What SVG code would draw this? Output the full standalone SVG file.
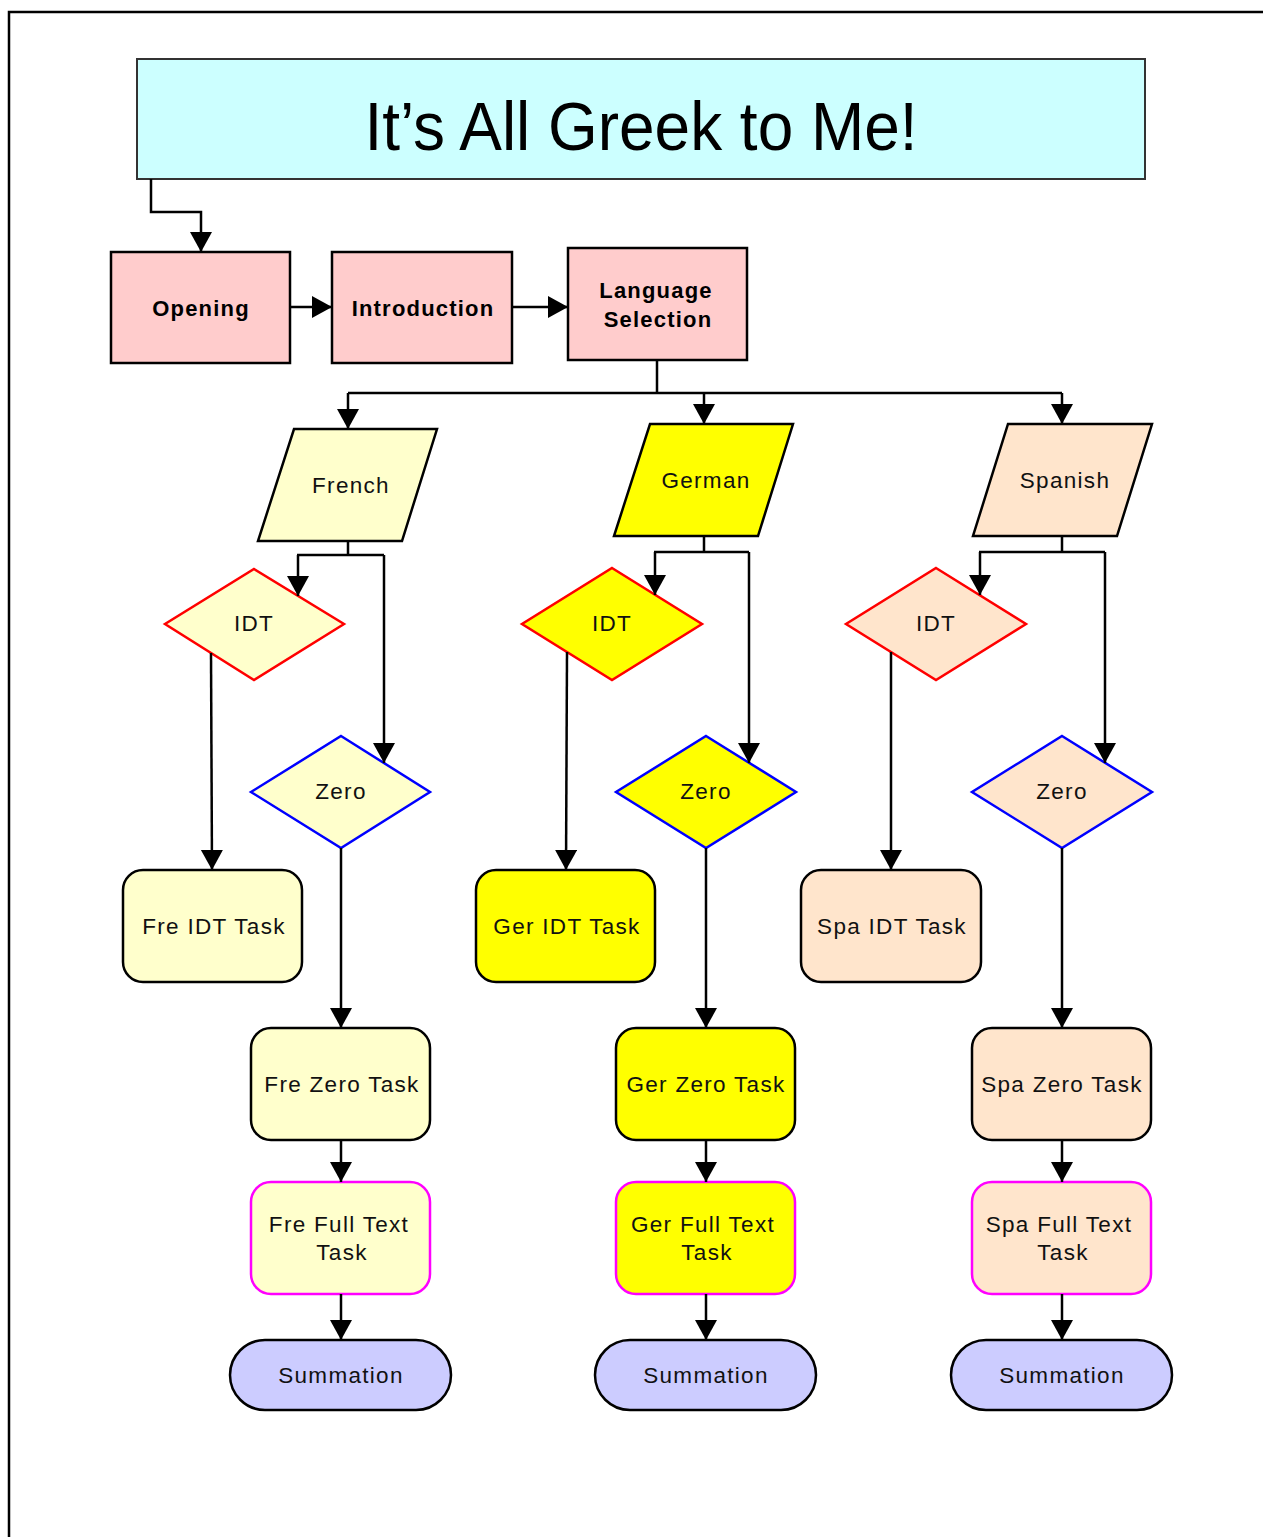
<svg xmlns="http://www.w3.org/2000/svg" width="1263" height="1537" viewBox="0 0 1263 1537">
<defs>
<marker id="ah" markerUnits="userSpaceOnUse" markerWidth="22" markerHeight="24" refX="20" refY="11" orient="auto" viewBox="0 0 22 24">
<path d="M0,0 L20,11 L0,22 Z" fill="#000"/>
</marker>
<style>
.bg{fill:#fff}
.frame{fill:none;stroke:#000;stroke-width:2.5}
.title{fill:#CCFFFF;stroke:#333;stroke-width:2}
.titletxt{font-family:"Liberation Sans",Arial,sans-serif;font-size:68px;fill:#000}
.pink{fill:#FFCCCC;stroke:#000;stroke-width:2.5}
.bold{font-family:"Liberation Sans",Arial,sans-serif;font-size:22px;font-weight:bold;letter-spacing:1.2px;fill:#000}
.lbl{font-family:"Liberation Sans",Arial,sans-serif;font-size:22.5px;letter-spacing:1.3px;fill:#111}
.fre{fill:#FFFFCC}
.ger{fill:#FFFF00}
.spa{fill:#FFE5CC}
.blk{stroke:#000;stroke-width:2.5}
.red{stroke:#FF0000;stroke-width:2.5}
.blue{stroke:#0000FF;stroke-width:2.5}
.mag{stroke:#FF00FF;stroke-width:2.5}
.sum{fill:#CCCCFF;stroke:#000;stroke-width:2.5}
.conn path{fill:none;stroke:#000;stroke-width:2.5}
.conn .a{marker-end:url(#ah)}
</style>
</defs>
<rect class="bg" x="0" y="0" width="1263" height="1537"/>
<path class="frame" d="M9,1540 L9,12 L1266,12"/>

<g id="title">
<rect class="title" x="137" y="59" width="1008" height="120"/>
<text class="titletxt" x="641" y="150" text-anchor="middle" textLength="553" lengthAdjust="spacingAndGlyphs">It’s All Greek to Me!</text>
</g>

<g id="opening">
<rect class="pink" x="111" y="252" width="179" height="111"/>
<text class="bold" x="201" y="316" text-anchor="middle">Opening</text>
</g>
<g id="introduction">
<rect class="pink" x="332" y="252" width="180" height="111"/>
<text class="bold" x="423" y="316" text-anchor="middle">Introduction</text>
</g>
<g id="language-selection">
<rect class="pink" x="568" y="248" width="179" height="112"/>
<text class="bold" x="656" y="298" text-anchor="middle">Language</text>
<text class="bold" x="658" y="327" text-anchor="middle">Selection</text>
</g>

<g id="french">
<polygon class="fre blk" points="294,429 437,429 402,541 258,541"/>
<text class="lbl" x="351" y="493" text-anchor="middle">French</text>
</g>
<g id="german">
<polygon class="ger blk" points="650,424 793,424 758,536 614,536"/>
<text class="lbl" x="706" y="488" text-anchor="middle">German</text>
</g>
<g id="spanish">
<polygon class="spa blk" points="1008,424 1152,424 1117,536 973,536"/>
<text class="lbl" x="1065" y="488" text-anchor="middle">Spanish</text>
</g>

<g id="fre-idt">
<polygon class="fre red" points="254,569 344,624 254,680 165,624"/>
<text class="lbl" x="254" y="631" text-anchor="middle">IDT</text>
</g>
<g id="fre-zero">
<polygon class="fre blue" points="341,736 430,792 341,848 251,792"/>
<text class="lbl" x="341" y="799" text-anchor="middle">Zero</text>
</g>
<g id="ger-idt">
<polygon class="ger red" points="612,568 702,624 612,680 522,624"/>
<text class="lbl" x="612" y="631" text-anchor="middle">IDT</text>
</g>
<g id="ger-zero">
<polygon class="ger blue" points="706,736 796,792 706,848 616,792"/>
<text class="lbl" x="706" y="799" text-anchor="middle">Zero</text>
</g>
<g id="spa-idt">
<polygon class="spa red" points="936,568 1026,624 936,680 846,624"/>
<text class="lbl" x="936" y="631" text-anchor="middle">IDT</text>
</g>
<g id="spa-zero">
<polygon class="spa blue" points="1062,736 1152,792 1062,848 972,792"/>
<text class="lbl" x="1062" y="799" text-anchor="middle">Zero</text>
</g>

<g id="fre-idt-task">
<rect class="fre blk" x="123" y="870" width="179" height="112" rx="20"/>
<text class="lbl" x="214" y="934" text-anchor="middle">Fre IDT Task</text>
</g>
<g id="ger-idt-task">
<rect class="ger blk" x="476" y="870" width="179" height="112" rx="20"/>
<text class="lbl" x="567" y="934" text-anchor="middle">Ger IDT Task</text>
</g>
<g id="spa-idt-task">
<rect class="spa blk" x="801" y="870" width="180" height="112" rx="20"/>
<text class="lbl" x="892" y="934" text-anchor="middle">Spa IDT Task</text>
</g>

<g id="fre-zero-task">
<rect class="fre blk" x="251" y="1028" width="179" height="112" rx="20"/>
<text class="lbl" x="342" y="1092" text-anchor="middle">Fre Zero Task</text>
</g>
<g id="ger-zero-task">
<rect class="ger blk" x="616" y="1028" width="179" height="112" rx="20"/>
<text class="lbl" x="706" y="1092" text-anchor="middle">Ger Zero Task</text>
</g>
<g id="spa-zero-task">
<rect class="spa blk" x="972" y="1028" width="179" height="112" rx="20"/>
<text class="lbl" x="1062" y="1092" text-anchor="middle">Spa Zero Task</text>
</g>

<g id="fre-full-text-task">
<rect class="fre mag" x="251" y="1182" width="179" height="112" rx="20"/>
<text class="lbl" x="339" y="1232" text-anchor="middle">Fre Full Text</text>
<text class="lbl" x="342" y="1260" text-anchor="middle">Task</text>
</g>
<g id="ger-full-text-task">
<rect class="ger mag" x="616" y="1182" width="179" height="112" rx="20"/>
<text class="lbl" x="703" y="1232" text-anchor="middle">Ger Full Text</text>
<text class="lbl" x="707" y="1260" text-anchor="middle">Task</text>
</g>
<g id="spa-full-text-task">
<rect class="spa mag" x="972" y="1182" width="179" height="112" rx="20"/>
<text class="lbl" x="1059" y="1232" text-anchor="middle">Spa Full Text</text>
<text class="lbl" x="1063" y="1260" text-anchor="middle">Task</text>
</g>

<g id="fre-summation">
<rect class="sum" x="230" y="1340" width="221" height="70" rx="35"/>
<text class="lbl" x="341" y="1383" text-anchor="middle">Summation</text>
</g>
<g id="ger-summation">
<rect class="sum" x="595" y="1340" width="221" height="70" rx="35"/>
<text class="lbl" x="706" y="1383" text-anchor="middle">Summation</text>
</g>
<g id="spa-summation">
<rect class="sum" x="951" y="1340" width="221" height="70" rx="35"/>
<text class="lbl" x="1062" y="1383" text-anchor="middle">Summation</text>
</g>

<g id="connectors" class="conn">
<path class="a" d="M151,179 L151,212 L201,212 L201,252"/>
<path class="a" d="M290,307 L332,307"/>
<path class="a" d="M512,307 L568,307"/>
<path d="M657,360 L657,393 M348,393 L1062,393"/>
<path class="a" d="M348,393 L348,429"/>
<path class="a" d="M704,393 L704,424"/>
<path class="a" d="M1062,393 L1062,424"/>

<path d="M348,541 L348,555 M297,555 L384,555"/>
<path class="a" d="M298,555 L298,596"/>
<path class="a" d="M384,555 L384,763"/>
<path class="a" d="M211,653 L212,870"/>
<path class="a" d="M341,848 L341,1028"/>
<path class="a" d="M341,1140 L341,1182"/>
<path class="a" d="M341,1294 L341,1340"/>

<path d="M704,536 L704,552 M654,552 L749,552"/>
<path class="a" d="M655,552 L655,595"/>
<path class="a" d="M749,552 L749,763"/>
<path class="a" d="M567,652 L566,870"/>
<path class="a" d="M706,848 L706,1028"/>
<path class="a" d="M706,1140 L706,1182"/>
<path class="a" d="M706,1294 L706,1340"/>

<path d="M1062,536 L1062,552 M979,552 L1105,552"/>
<path class="a" d="M980,552 L980,595"/>
<path class="a" d="M1105,552 L1105,763"/>
<path class="a" d="M891,652 L891,870"/>
<path class="a" d="M1062,848 L1062,1028"/>
<path class="a" d="M1062,1140 L1062,1182"/>
<path class="a" d="M1062,1294 L1062,1340"/>
</g>
</svg>
